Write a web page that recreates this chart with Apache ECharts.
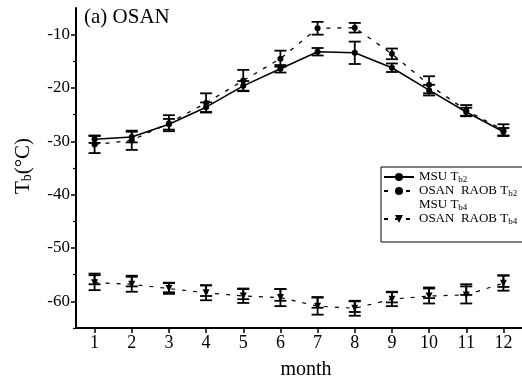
<!DOCTYPE html>
<html>
<head>
<meta charset="utf-8">
<script src="https://cdn.jsdelivr.net/npm/echarts@6/dist/echarts.min.js"></script>
<style>
  html, body { margin: 0; padding: 0; background: #fff; }
  #chart { width: 522px; height: 383px; }
</style>
</head>
<body>
<div id="chart"></div>
<script>
const months = ['1', '2', '3', '4', '5', '6', '7', '8', '9', '10', '11', '12'];
const yTicks = [-60, -50, -40, -30, -20, -10];
const yMinorTicks = [-65, -55, -45, -35, -25, -15];

// Tb2 (upper group)
const msuTb2 = [-29.6, -29.2, -26.8, -23.6, -19.6, -16.4, -13.2, -13.4, -16.2, -20.4, -24.5, -28.2];
const msuTb2Err = [0.7, 1.0, 1.0, 0.9, 0.9, 0.7, 0.7, 2.1, 0.8, 1.0, 0.8, 0.7];
const raobTb2 = [-30.6, -29.8, -26.6, -22.8, -18.6, -14.5, -8.8, -8.7, -13.6, -19.4, -24.2, -27.9];
const raobTb2Err = [1.6, 1.8, 1.5, 1.8, 2.0, 1.5, 1.2, 0.9, 1.0, 1.6, 1.0, 1.1];

// Tb4 (lower group)
const msuTb4 = [-55.8, -56.2, -57.4, -58.0, -58.6, -58.8, -60.2, -61.0, -59.2, -58.4, -57.8, -56.2];
const msuTb4Err = [1.0, 1.0, 0.9, 1.0, 1.0, 1.1, 1.0, 1.0, 1.0, 1.0, 1.0, 1.1];
const raobTb4 = [-56.5, -56.8, -57.6, -58.4, -59.0, -59.3, -60.9, -61.3, -59.6, -59.0, -58.8, -56.6];
const raobTb4Err = [1.4, 1.4, 1.0, 1.4, 1.3, 1.6, 1.6, 1.4, 1.3, 1.4, 1.6, 1.4];

const FONT = 'Liberation Serif';

const errData = (vals, errs) => vals.map((v, i) => [i, v - errs[i], v + errs[i]]);

const renderErr = (params, api) => {
  const x = api.value(0);
  const lo = api.coord([x, api.value(1)]);
  const hi = api.coord([x, api.value(2)]);
  const w = 6;
  const style = { stroke: '#000', lineWidth: 1.8 };
  return {
    type: 'group',
    children: [
      { type: 'line', shape: { x1: lo[0], y1: lo[1], x2: hi[0], y2: hi[1] }, style: style },
      { type: 'line', shape: { x1: lo[0] - w, y1: lo[1], x2: lo[0] + w, y2: lo[1] }, style: style },
      { type: 'line', shape: { x1: hi[0] - w, y1: hi[1], x2: hi[0] + w, y2: hi[1] }, style: style },
    ],
  };
};

const errSeries = (vals, errs) => ({
  type: 'custom',
  silent: true,
  renderItem: renderErr,
  data: errData(vals, errs),
  z: 3,
});

const legendLabels = {
  'MSU Tb2': '{t|MSU T}{s|b2}',
  'OSAN RAOB Tb2': '{t|OSAN  RAOB T}{s|b2}',
  'MSU Tb4': '{t|MSU T}{s|b4}',
  'OSAN RAOB Tb4': '{t|OSAN  RAOB T}{s|b4}',
};

const chart = echarts.init(document.getElementById('chart'));
chart.setOption({
  animation: false,
  backgroundColor: '#fff',
  textStyle: { fontFamily: FONT, color: '#000' },
  grid: { left: 76, right: -2, top: 8, bottom: 55 },
  xAxis: {
    type: 'category',
    data: months,
    boundaryGap: true,
    axisLine: { lineStyle: { color: '#000', width: 2 } },
    axisTick: { show: true, alignWithLabel: true, length: 5, lineStyle: { color: '#000', width: 1.5 } },
    axisLabel: { color: '#000', fontFamily: FONT, fontSize: 18, margin: 6 },
    splitLine: { show: false },
  },
  yAxis: [
    {
      type: 'value',
      min: -65,
      max: -5,
      axisLine: { show: true, lineStyle: { color: '#000', width: 2 } },
      axisTick: { show: true, length: 5, customValues: yTicks, lineStyle: { color: '#000', width: 1.5 } },
      axisLabel: { customValues: yTicks, color: '#000', fontFamily: FONT, fontSize: 17, margin: 6 },
      splitLine: { show: false },
    },
    {
      type: 'value',
      min: -65,
      max: -5,
      position: 'left',
      axisLine: { show: false },
      axisTick: { show: true, length: 3, customValues: yMinorTicks, lineStyle: { color: '#000', width: 1.2 } },
      axisLabel: { show: false },
      splitLine: { show: false },
    },
  ],
  legend: {
    orient: 'vertical',
    left: 381,
    top: 167,
    padding: [3, 8, 16, 2],
    itemGap: 0,
    itemWidth: 30,
    itemHeight: 10,
    borderColor: '#000',
    borderWidth: 1,
    data: [
      'MSU Tb2',
      'OSAN RAOB Tb2',
      { name: 'MSU Tb4', itemStyle: { opacity: 0 }, lineStyle: { opacity: 0 } },
      'OSAN RAOB Tb4',
    ],
    formatter: (name) => legendLabels[name],
    textStyle: {
      rich: {
        t: { fontFamily: FONT, fontSize: 13, color: '#000', lineHeight: 15 },
        s: { fontFamily: FONT, fontSize: 9, color: '#000', padding: [5, 0, 0, 0], lineHeight: 15 },
      },
    },
  },
  graphic: [
    {
      type: 'text', left: 84, top: 7,
      style: { text: '(a) OSAN', font: '21px "Liberation Serif"', fill: '#000' },
    },
    {
      type: 'text', x: 306, y: 370,
      style: { text: 'month', font: '20px "Liberation Serif"', fill: '#000', align: 'center', verticalAlign: 'middle' },
    },
    {
      type: 'text', x: 23, y: 166, rotation: Math.PI / 2,
      style: {
        text: '{t|T}{s|b}{t|(°C)}',
        align: 'center', verticalAlign: 'middle',
        rich: {
          t: { fontFamily: FONT, fontSize: 21, fill: '#000', lineHeight: 24 },
          s: { fontFamily: FONT, fontSize: 14, fill: '#000', padding: [8, 0, 0, 0], lineHeight: 24 },
        },
      },
    },
  ],
  series: [
    {
      name: 'MSU Tb2', type: 'line', data: msuTb2,
      symbol: 'circle', symbolSize: 6, z: 4,
      itemStyle: { color: '#000' },
      lineStyle: { color: '#000', width: 1.5 },
    },
    {
      name: 'OSAN RAOB Tb2', type: 'line', data: raobTb2,
      symbol: 'circle', symbolSize: 6, z: 4,
      itemStyle: { color: '#000' },
      lineStyle: { color: '#000', width: 1.3, type: [4, 7] },
    },
    {
      name: 'MSU Tb4', type: 'line', data: msuTb4,
      symbol: 'none', z: 4,
      itemStyle: { color: '#000', opacity: 0 },
      lineStyle: { color: '#000', width: 0, opacity: 0 },
    },
    {
      name: 'OSAN RAOB Tb4', type: 'line', data: raobTb4,
      symbol: 'triangle', symbolRotate: 180, symbolSize: 7, z: 4,
      itemStyle: { color: '#000' },
      lineStyle: { color: '#000', width: 1.2, type: [4, 7] },
    },
    errSeries(msuTb2, msuTb2Err),
    errSeries(raobTb2, raobTb2Err),
    errSeries(msuTb4, msuTb4Err),
    errSeries(raobTb4, raobTb4Err),
  ],
});
</script>
</body>
</html>
